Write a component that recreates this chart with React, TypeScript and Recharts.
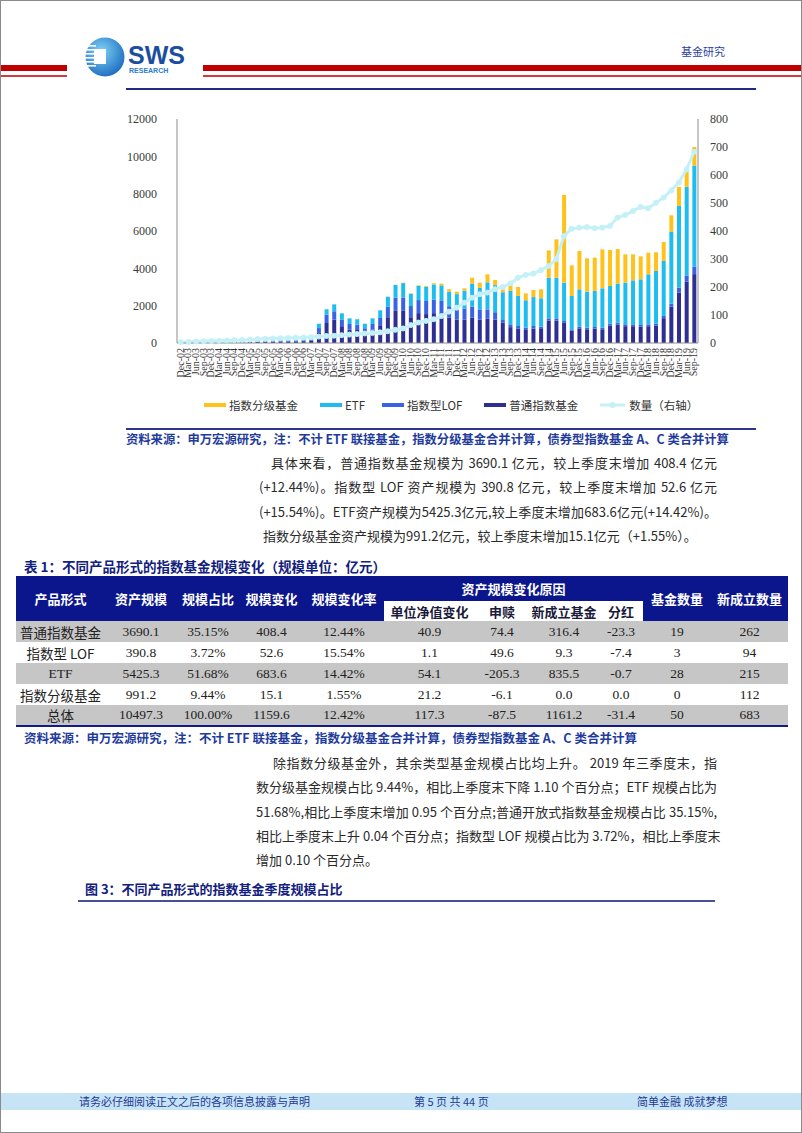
import React from 'react';
import { ComposedChart, Bar, Line, XAxis, YAxis } from 'recharts';

// 季度
const quarters = [
  'Dec-02', 'Mar-03', 'Jun-03', 'Sep-03', 'Dec-03', 'Mar-04', 'Jun-04', 'Sep-04', 'Dec-04',
  'Mar-05', 'Jun-05', 'Sep-05', 'Dec-05', 'Mar-06', 'Jun-06', 'Sep-06', 'Dec-06',
  'Mar-07', 'Jun-07', 'Sep-07', 'Dec-07', 'Mar-08', 'Jun-08', 'Sep-08', 'Dec-08',
  'Mar-09', 'Jun-09', 'Sep-09', 'Dec-09', 'Mar-10', 'Jun-10', 'Sep-10', 'Dec-10',
  'Mar-11', 'Jun-11', 'Sep-11', 'Dec-11', 'Mar-12', 'Jun-12', 'Sep-12', 'Dec-12',
  'Mar-13', 'Jun-13', 'Sep-13', 'Dec-13', 'Mar-14', 'Jun-14', 'Sep-14', 'Dec-14',
  'Mar-15', 'Jun-15', 'Sep-15', 'Dec-15', 'Mar-16', 'Jun-16', 'Sep-16', 'Dec-16',
  'Mar-17', 'Jun-17', 'Sep-17', 'Dec-17', 'Mar-18', 'Jun-18', 'Sep-18', 'Dec-18',
  'Mar-19', 'Jun-19', 'Sep-19',
];

// 规模（亿元）
const ordinaryIndex = [
  60, 65, 65, 70, 75, 80, 80, 75, 70, 70, 70, 75, 75, 80, 85, 90, 100, 110,
  540, 1070, 1250, 900, 720, 690, 560, 720, 950, 1380, 1750,
  1720, 1380, 1600, 1550, 1600, 1550, 1350, 1250, 1250, 1350, 1250, 1300, 1250, 1100, 850, 780, 700, 770, 750,
  1200, 1200, 1080, 655, 785, 735, 770, 735, 940, 980, 900, 900, 870, 900, 930, 1330, 1950, 2700, 3282, 3690,
];
const indexLof = [
  0, 0, 0, 0, 0, 0, 0, 0, 0, 10, 15, 20, 20, 25, 30, 30, 40, 45,
  260, 450, 450, 360, 300, 290, 230, 300, 390, 560, 680,
  720, 600, 700, 700, 720, 700, 620, 580, 600, 600, 550, 500, 400, 170, 150, 130, 120, 140, 125,
  121, 121, 99, 77, 90, 86, 87, 86, 96, 110, 100, 100, 95, 100, 110, 120, 160, 270, 338, 391,
];
const etf = [
  0, 0, 0, 0, 0, 0, 0, 0, 40, 50, 60, 60, 70, 70, 80, 85, 90, 100,
  234, 285, 370, 330, 300, 290, 245, 300, 410, 540, 680,
  770, 660, 760, 770, 820, 840, 780, 790, 950, 1230, 1150, 1450, 1450, 1450, 1790, 1610, 1470, 1550, 1520,
  2179, 2179, 2053, 1786, 2000, 1929, 1929, 2108, 2018, 2090, 2232, 2357, 2447, 2679, 2821, 2945, 3860, 4375, 4742, 5425,
];
const gradedIndex = [
  0, 0, 0, 0, 0, 0, 0, 0, 0, 0, 0, 0, 0, 0, 0, 0, 0, 0,
  0, 0, 0, 0, 0, 0, 0, 0, 0, 0, 10,
  20, 20, 30, 40, 60, 90, 130, 130, 130, 320, 280, 430, 280, 160, 440, 480, 370, 380, 480,
  1464, 2054, 4697, 1643, 2054, 1786, 1785, 2089, 1928, 1857, 1518, 1393, 1232, 1160, 1000, 1015, 870, 1020, 976, 991,
];
// 数量（右轴）
const fundCount = [
  3, 4, 5, 6, 7, 8, 9, 10, 11, 12, 14, 15, 16, 17, 18, 19, 20, 21,
  23, 25, 26, 28, 30, 32, 34, 36, 38, 42, 47,
  52, 64, 73, 79, 85, 96, 112, 126, 144, 162, 174, 180, 192, 200, 213, 233, 243, 248, 260,
  275, 299, 382, 408, 412, 414, 410, 412, 418, 448, 457, 471, 486, 481, 501, 519, 545, 573, 620, 683,
];

const leftTicks = [0, 2000, 4000, 6000, 8000, 10000, 12000];
const rightTicks = [0, 100, 200, 300, 400, 500, 600, 700, 800];

const GOLD = '#ffc21a';
const CYAN = '#1fbdef';
const BLUE = '#3a62e6';
const NAVY = '#2f2f93';
const LINE = '#c4f1f7';

const data = quarters.map((q, i) => ({
  q,
  ordinary: ordinaryIndex[i],
  lof: indexLof[i],
  etf: etf[i],
  graded: gradedIndex[i],
  count: fundCount[i],
}));

const legendItems = [
  { label: '指数分级基金', color: GOLD, line: false },
  { label: 'ETF', color: CYAN, line: false },
  { label: '指数型LOF', color: BLUE, line: false },
  { label: '普通指数基金', color: NAVY, line: false },
  { label: '数量（右轴）', color: LINE, line: true },
];

// 表 1
const headMain = ['产品形式', '资产规模', '规模占比', '规模变化', '规模变化率'];
const headReason = ['单位净值变化', '申赎', '新成立基金', '分红'];
const headTail = ['基金数量', '新成立数量'];
const tableRows = [
  ['普通指数基金', '3690.1', '35.15%', '408.4', '12.44%', '40.9', '74.4', '316.4', '-23.3', '19', '262'],
  ['指数型 LOF', '390.8', '3.72%', '52.6', '15.54%', '1.1', '49.6', '9.3', '-7.4', '3', '94'],
  ['ETF', '5425.3', '51.68%', '683.6', '14.42%', '54.1', '-205.3', '835.5', '-0.7', '28', '215'],
  ['指数分级基金', '991.2', '9.44%', '15.1', '1.55%', '21.2', '-6.1', '0.0', '0.0', '0', '112'],
  ['总体', '10497.3', '100.00%', '1159.6', '12.42%', '117.3', '-87.5', '1161.2', '-31.4', '50', '683'],
];
const colWidths = [89, 72, 62, 65, 80, 91, 54, 70, 44, 68, 77];

const para1 = [
  { text: '具体来看，普通指数基金规模为 3690.1 亿元，较上季度末增加 408.4 亿元', left: 270, justify: true },
  { text: '(+12.44%)。指数型 LOF 资产规模为 390.8 亿元，较上季度末增加 52.6 亿元', left: 258, justify: true },
  { text: '(+15.54%)。ETF资产规模为5425.3亿元,较上季度末增加683.6亿元(+14.42%)。', left: 258, justify: true },
  { text: '指数分级基金资产规模为991.2亿元，较上季度末增加15.1亿元（+1.55%）。', left: 262, justify: false },
];
const para2 = [
  { text: '除指数分级基金外，其余类型基金规模占比均上升。 2019 年三季度末，指', left: 272, justify: true },
  { text: '数分级基金规模占比 9.44%，相比上季度末下降 1.10 个百分点；ETF 规模占比为', left: 255, justify: true },
  { text: '51.68%,相比上季度末增加 0.95 个百分点;普通开放式指数基金规模占比 35.15%,', left: 255, justify: true },
  { text: '相比上季度末上升 0.04 个百分点；指数型 LOF 规模占比为 3.72%，相比上季度末', left: 255, justify: true },
  { text: '增加 0.10 个百分点。', left: 255, justify: false },
];

const CJK = "'Noto Sans CJK SC', 'Noto Sans', sans-serif";
const SERIF = "'Liberation Serif', 'DejaVu Serif', serif";
const SOURCE = '资料来源：申万宏源研究，注：不计 ETF 联接基金，指数分级基金合并计算，债券型指数基金 A、C 类合并计算';

const abs = (left: number, top: number, extra: React.CSSProperties = {}): React.CSSProperties => ({
  position: 'absolute',
  left,
  top,
  ...extra,
});

const XTick = (props: any) => {
  const { x, y, payload } = props;
  return (
    <text
      x={x}
      y={y}
      dy={3}
      transform={`rotate(-90, ${x}, ${y})`}
      textAnchor="end"
      fontSize={10}
      fontFamily={SERIF}
      fill="#333"
    >
      {payload.value}
    </text>
  );
};

const Para = ({ lines, top }: { lines: { text: string; left: number; justify: boolean }[]; top: number }) => (
  <>
    {lines.map((l, i) => (
      <div
        key={i}
        style={abs(l.left, top + i * 24.3 - 10, {
          width: 716 - l.left,
          height: 20,
          lineHeight: '20px',
          fontSize: 13,
          color: '#2a2a2a',
          fontFamily: CJK,
          textAlign: 'left',
          textAlignLast: l.justify ? 'justify' : 'left',
          whiteSpace: 'nowrap',
        })}
      >
        {l.text}
      </div>
    ))}
  </>
);

const Chart = () => (
  <ComposedChart
    width={642}
    height={282}
    data={data}
    margin={{ top: 13, right: 5, left: 0, bottom: 0 }}
  >
    <XAxis
      dataKey="q"
      interval={0}
      height={45}
      tick={<XTick />}
      tickLine={false}
      tickSize={3}
      tickMargin={2}
      axisLine={{ stroke: '#8c8c8c' }}
    />
    <YAxis
      yAxisId="left"
      width={76}
      domain={[0, 12000]}
      ticks={leftTicks}
      tickLine={false}
      tickMargin={14}
      axisLine={{ stroke: '#8c8c8c' }}
      tick={{ fontSize: 12, fontFamily: SERIF, fill: '#3a3a3a' }}
    />
    <YAxis
      yAxisId="right"
      orientation="right"
      width={40}
      domain={[0, 800]}
      ticks={rightTicks}
      tickLine={false}
      tickMargin={6}
      axisLine={{ stroke: '#8c8c8c' }}
      tick={{ fontSize: 12, fontFamily: SERIF, fill: '#3a3a3a' }}
    />
    <Bar yAxisId="left" stackId="a" dataKey="ordinary" fill={NAVY} barSize={4} isAnimationActive={false} />
    <Bar yAxisId="left" stackId="a" dataKey="lof" fill={BLUE} barSize={4} isAnimationActive={false} />
    <Bar yAxisId="left" stackId="a" dataKey="etf" fill={CYAN} barSize={4} isAnimationActive={false} />
    <Bar yAxisId="left" stackId="a" dataKey="graded" fill={GOLD} barSize={4} isAnimationActive={false} />
    <Line
      yAxisId="right"
      type="linear"
      dataKey="count"
      stroke={LINE}
      strokeWidth={3}
      dot={{ r: 2.5, fill: LINE, stroke: LINE, strokeWidth: 1 }}
      isAnimationActive={false}
    />
  </ComposedChart>
);

const cellBase: React.CSSProperties = { padding: 0, textAlign: 'center', verticalAlign: 'middle' };

const Table = () => (
  <table
    style={abs(15, 575, {
      borderCollapse: 'collapse',
      tableLayout: 'fixed',
      width: 772,
      borderBottom: '2.5px solid #141b86',
    })}
  >
    <colgroup>
      {colWidths.map((w, i) => (
        <col key={i} style={{ width: w }} />
      ))}
    </colgroup>
    <thead>
      <tr style={{ height: 25, background: '#0b168c' }}>
        {headMain.map((h) => (
          <th key={h} rowSpan={2} style={{ ...cellBase, color: '#fff', fontFamily: CJK, fontSize: 13, fontWeight: 700 }}>
            {h}
          </th>
        ))}
        <th colSpan={4} style={{ ...cellBase, color: '#fff', fontFamily: CJK, fontSize: 13, fontWeight: 700 }}>
          资产规模变化原因
        </th>
        {headTail.map((h) => (
          <th key={h} rowSpan={2} style={{ ...cellBase, color: '#fff', fontFamily: CJK, fontSize: 13, fontWeight: 700 }}>
            {h}
          </th>
        ))}
      </tr>
      <tr style={{ height: 20 }}>
        {headReason.map((h) => (
          <th key={h} style={{ ...cellBase, background: '#fff', color: '#1a1a3a', fontFamily: CJK, fontSize: 13, fontWeight: 700 }}>
            {h}
          </th>
        ))}
      </tr>
    </thead>
    <tbody>
      {tableRows.map((row, r) => (
        <tr key={r} style={{ height: 21, background: r % 2 === 0 ? '#c6c6c6' : '#fff' }}>
          {row.map((c, i) => (
            <td
              key={i}
              style={{
                ...cellBase,
                fontFamily: i === 0 && /[\u4e00-\u9fff]/.test(c) ? CJK : SERIF,
                fontSize: i === 0 ? 13.5 : 13.5,
                color: '#222',
              }}
            >
              {c}
            </td>
          ))}
        </tr>
      ))}
    </tbody>
  </table>
);

const App = () => (
  <div
    style={{
      position: 'absolute',
      left: 0,
      top: 0,
      width: 802,
      height: 1133,
      boxSizing: 'border-box',
      border: '1px solid #8a8a8a',
      background: '#fff',
      overflow: 'hidden',
    }}
  >
    {/* header bars */}
    <div style={abs(0, 64, { width: 66, height: 6, background: '#c00000' })} />
    <div style={abs(0, 74, { width: 66, height: 2, background: '#d43a3a' })} />
    <div style={abs(202, 64, { width: 600, height: 6, background: '#c00000' })} />
    <div style={abs(202, 74, { width: 600, height: 2, background: '#d43a3a' })} />

    <svg style={abs(80, 34)} width={112} height={46}>
      <defs>
        <radialGradient id="swsg" cx="40%" cy="35%" r="75%">
          <stop offset="0" stopColor="#7fd3f5" />
          <stop offset="1" stopColor="#1463bb" />
        </radialGradient>
      </defs>
      <circle cx={24} cy={22} r={19.5} fill="url(#swsg)" />
      {[10, 14, 18, 22, 26, 30].map((y) => (
        <rect key={y} x={4} y={y} width={11} height={1.6} fill="#fff" />
      ))}
      <rect x={13} y={14} width={12} height={15} fill="#fff" />
      <text x={47} y={29} fontSize={25} fontWeight={700} fill="#1b4f9e" fontFamily="'Liberation Sans', Arial, sans-serif">
        SWS
      </text>
      <text x={48} y={38} fontSize={7} fontWeight={700} fill="#2b7bd0" fontFamily="'Liberation Sans', Arial, sans-serif">
        RESEARCH
      </text>
    </svg>

    <div style={abs(680, 43, { fontSize: 11, color: '#2d3f9f', fontFamily: CJK, lineHeight: '14px' })}>基金研究</div>
    <div style={abs(125, 87, { width: 630, height: 1.5, background: '#1f2a80' })} />

    {/* chart */}
    <div style={abs(100, 105)}>
      <Chart />
    </div>

    {/* legend */}
    <div style={abs(203, 395, { display: 'flex', alignItems: 'center', height: 18, fontFamily: CJK, fontSize: 11.5, color: '#333' })}>
      {legendItems.map((it, i) => (
        <div key={i} style={{ display: 'flex', alignItems: 'center', marginRight: i === 1 ? 17 : 22 }}>
          {it.line ? (
            <svg width={25} height={10} style={{ marginRight: 4 }}>
              <line x1={0} y1={5} x2={25} y2={5} stroke={it.color} strokeWidth={3} />
              <circle cx={12.5} cy={5} r={3} fill={it.color} />
            </svg>
          ) : (
            <div style={{ width: 22, height: 4, background: it.color, marginRight: 3 }} />
          )}
          <span>{it.label}</span>
        </div>
      ))}
    </div>

    <div style={abs(125, 427, { width: 630, height: 2, background: '#2c3590' })} />
    <div style={abs(125, 430, { fontSize: 12.3, fontWeight: 700, color: '#1f3c9c', fontFamily: CJK, lineHeight: '16px', whiteSpace: 'nowrap' })}>
      {SOURCE}
    </div>

    <Para lines={para1} top={462} />

    <div style={abs(23, 556, { fontSize: 13.5, fontWeight: 700, color: '#12207e', fontFamily: CJK, lineHeight: '18px', whiteSpace: 'nowrap' })}>
      表 1：不同产品形式的指数基金规模变化（规模单位：亿元）
    </div>

    <Table />

    <div style={abs(23, 729, { fontSize: 12.5, fontWeight: 700, color: '#1f3c9c', fontFamily: CJK, lineHeight: '16px', whiteSpace: 'nowrap' })}>
      {SOURCE}
    </div>

    <Para lines={para2} top={762} />

    <div style={abs(84, 879, { fontSize: 13, fontWeight: 700, color: '#12207e', fontFamily: CJK, lineHeight: '18px', whiteSpace: 'nowrap' })}>
      图 3：不同产品形式的指数基金季度规模占比
    </div>
    <div style={abs(77, 899, { width: 637, height: 2, background: '#4a4f96' })} />

    {/* footer */}
    <div style={abs(0, 1092, { width: 802, height: 17, background: '#c7e4f7' })} />
    <div style={abs(78, 1093, { fontSize: 11, color: '#1f3a93', fontFamily: CJK, lineHeight: '15px', whiteSpace: 'nowrap' })}>
      请务必仔细阅读正文之后的各项信息披露与声明
    </div>
    <div style={abs(413, 1093, { fontSize: 11, color: '#1f3a93', fontFamily: CJK, lineHeight: '15px', whiteSpace: 'nowrap' })}>
      第 5 页 共 44 页
    </div>
    <div style={abs(636, 1093, { fontSize: 11, color: '#1f3a93', fontFamily: CJK, lineHeight: '15px', whiteSpace: 'nowrap' })}>
      简单金融 成就梦想
    </div>
  </div>
);

export default App;
